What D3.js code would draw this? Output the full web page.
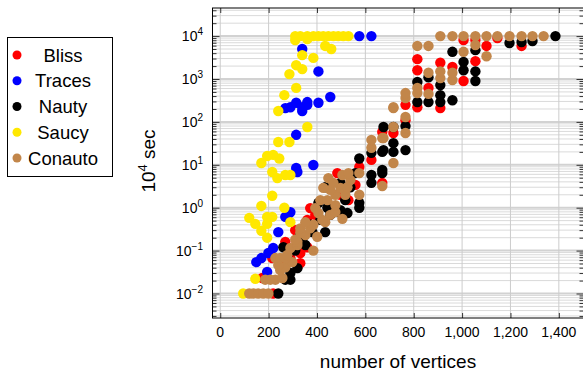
<!DOCTYPE html>
<html>
<head>
<meta charset="utf-8">
<script src="https://cdn.jsdelivr.net/npm/d3@7"></script>
<style>
  body { margin: 0; background: #fff; }
  text { font-family: "Liberation Sans", Arial, Helvetica, sans-serif; }
</style>
</head>
<body>
<script>
// series: [number of vertices, time]
const seriesNames = ["Bliss", "Traces", "Nauty", "Saucy", "Conauto"];
const seriesColors = ["#ff0000", "#0000ff", "#000000", "#ffe800", "#c2864a"];

const blissData = [
  [219, 0.01], [174, 0.023], [248, 0.054], [290, 0.067], [215, 0.067], [331, 0.051],
  [331, 0.088], [269, 0.16], [360, 0.12], [310, 0.30], [360, 0.52], [393, 0.68],
  [372, 0.98], [497, 2.0], [530, 1.5], [559, 3.4], [484, 6.4],
  [670, 3.8], [575, 8.9], [625, 13], [670, 58], [716, 55], [766, 110], [766, 250],
  [815, 220], [910, 210], [861, 620], [815, 1600], [815, 2900], [910, 2400],
  [960, 1900], [1006, 900], [1055, 2600], [1101, 5900], [1246, 5900],
  [1006, 8100], [1055, 8100], [1146, 9000]
];

const tracesData = [
  [575, 10000], [625, 10000], [339, 5000], [406, 1500], [455, 380], [406, 280],
  [360, 290], [339, 220], [314, 280], [290, 220], [269, 210], [360, 250],
  [339, 180], [314, 50], [314, 8.4], [385, 9.9], [319, 6.8], [290, 0.79],
  [286, 0.75], [269, 0.61], [240, 0.27], [219, 0.115], [199, 0.088], [170, 0.067],
  [149, 0.054], [194, 0.032]
];

const nautyData = [
  [240, 0.01], [269, 0.021], [290, 0.021], [290, 0.030], [319, 0.039], [277, 0.071],
  [310, 0.10], [261, 0.12], [352, 0.135], [339, 0.18], [331, 0.23], [381, 0.27],
  [434, 0.27], [372, 0.40], [414, 0.52], [455, 0.68], [526, 0.75], [488, 0.79],
  [497, 0.88], [443, 1.0], [406, 1.3], [517, 1.5], [575, 1.0], [575, 1.3],
  [434, 3.0], [538, 3.0], [497, 3.8], [625, 3.8], [625, 5.8], [559, 6.4], [670, 6.4],
  [670, 7.6], [575, 14], [625, 19], [670, 20], [716, 20], [716, 32], [675, 22],
  [766, 22], [675, 76], [716, 76], [766, 80], [815, 290], [861, 290], [910, 290],
  [960, 320], [910, 420], [910, 720], [815, 850], [861, 1100], [1055, 900],
  [1006, 1600], [1055, 1500], [1006, 2500], [960, 4300], [1055, 4700],
  [1196, 6900], [1246, 7300], [1291, 7700], [1386, 10000]
];

const saucyData = [
  [310, 10000], [331, 10000], [360, 10000], [385, 10000], [406, 10000], [426, 10000],
  [447, 10000], [468, 10000], [488, 10000], [509, 10000], [530, 10000],
  [310, 8100], [360, 8500], [434, 5900], [459, 5000], [339, 3600], [385, 3100],
  [314, 2100], [339, 1700], [286, 1300], [314, 620], [265, 420], [240, 180],
  [360, 76], [240, 34], [286, 34], [194, 16], [219, 17], [244, 14], [170, 11],
  [215, 6.8], [236, 4.9], [269, 5.8], [290, 5.8], [215, 1.9], [170, 1.1],
  [265, 1.0], [120, 0.58], [194, 0.61], [215, 0.61], [145, 0.42], [194, 0.42],
  [290, 0.46], [170, 0.29], [194, 0.20], [145, 0.022], [95, 0.01]
];

const conautoData = [
  [120, 0.01], [137, 0.01], [157, 0.01], [178, 0.01], [199, 0.01],
  [186, 0.021], [207, 0.021], [228, 0.021], [257, 0.023], [248, 0.035],
  [269, 0.041], [240, 0.046], [298, 0.054], [228, 0.067], [248, 0.067],
  [269, 0.067], [277, 0.079], [385, 0.10], [290, 0.115], [319, 0.135], [319, 0.16],
  [310, 0.18], [401, 0.21], [352, 0.23], [331, 0.26], [331, 0.33], [372, 0.33],
  [385, 0.40], [352, 0.46], [434, 0.46], [422, 0.52], [505, 0.55], [455, 0.68],
  [406, 0.75], [476, 0.79], [393, 0.98], [476, 1.15], [414, 1.5], [443, 1.5],
  [476, 2.0], [517, 2.0], [575, 2.0], [455, 2.6], [426, 2.9], [497, 2.9],
  [526, 3.0], [670, 3.2], [468, 3.8], [538, 4.4], [447, 4.9], [505, 5.8],
  [530, 6.4], [575, 6.4], [716, 11], [625, 25], [625, 38], [670, 42], [675, 42],
  [766, 55], [716, 76], [766, 130], [716, 210], [716, 220], [766, 360], [766, 470],
  [815, 470], [861, 450], [815, 620], [910, 1050], [960, 950], [861, 1400],
  [960, 1400], [910, 1500], [1101, 3400], [1006, 4300], [815, 5900], [861, 5900],
  [1055, 6200], [910, 10000], [960, 10000], [1006, 10000], [1055, 10000],
  [1101, 10000], [1146, 10000], [1196, 10000], [1246, 10000], [1291, 10000],
  [1337, 10000]
];

const allSeries = [blissData, tracesData, nautyData, saucyData, conautoData];
const xTicks = [0, 200, 400, 600, 800, 1000, 1200, 1400];
const yTickExps = [-2, -1, 0, 1, 2, 3, 4];

const W = 583, H = 372;
const plot = { left: 212.5, right: 583.5, top: 8, bottom: 318 };

const svg = d3.select("body").append("svg")
  .attr("width", W).attr("height", H);

const x = d3.scaleLinear().domain([-32, 1502]).range([plot.left, plot.right]);
const y = d3.scaleLog().domain([Math.pow(10, -2.571), Math.pow(10, 4.655)]).range([plot.bottom, plot.top]);

// grid
const minorVals = [];
for (let e = -3; e <= 4; e++) {
  for (let m = 2; m <= 9; m++) {
    const v = m * Math.pow(10, e);
    if (v > y.domain()[0] && v < y.domain()[1]) minorVals.push(v);
  }
}
const grid = svg.append("g");
grid.selectAll(".hminor").data(minorVals).join("line")
  .attr("x1", plot.left).attr("x2", plot.right)
  .attr("y1", d => y(d)).attr("y2", d => y(d))
  .attr("stroke", "#dadada").attr("stroke-width", 1);
grid.selectAll(".hmajor").data(yTickExps).join("line")
  .attr("x1", plot.left).attr("x2", plot.right)
  .attr("y1", d => y(Math.pow(10, d))).attr("y2", d => y(Math.pow(10, d)))
  .attr("stroke", "#d2d2d2").attr("stroke-width", 2);
grid.selectAll(".vline").data(xTicks).join("line")
  .attr("x1", d => x(d)).attr("x2", d => x(d))
  .attr("y1", plot.top).attr("y2", plot.bottom)
  .attr("stroke", "#cccccc").attr("stroke-width", 1);

// axes (ticks inside)
const tickColor = "#333";
const axes = svg.append("g");
axes.append("g").attr("transform", `translate(0,${plot.bottom})`)
  .call(d3.axisTop(x).tickValues(xTicks).tickSize(5).tickFormat(""));
axes.append("g").attr("transform", `translate(0,${plot.top})`)
  .call(d3.axisBottom(x).tickValues(xTicks).tickSize(5).tickFormat(""));
axes.append("g").attr("transform", `translate(${plot.left},0)`)
  .call(d3.axisRight(y).tickValues(yTickExps.map(e => Math.pow(10, e))).tickSize(7).tickFormat(""));
axes.append("g").attr("transform", `translate(${plot.left},0)`)
  .call(d3.axisRight(y).tickValues(minorVals).tickSize(4).tickFormat(""));
axes.append("g").attr("transform", `translate(${plot.right},0)`)
  .call(d3.axisLeft(y).tickValues(yTickExps.map(e => Math.pow(10, e))).tickSize(7).tickFormat(""));
axes.append("g").attr("transform", `translate(${plot.right},0)`)
  .call(d3.axisLeft(y).tickValues(minorVals).tickSize(4).tickFormat(""));
axes.selectAll(".domain").remove();
axes.selectAll(".tick line").attr("stroke", tickColor);

svg.append("rect")
  .attr("x", plot.left).attr("y", plot.top)
  .attr("width", plot.right - plot.left).attr("height", plot.bottom - plot.top)
  .attr("fill", "none").attr("stroke", "#000").attr("stroke-width", 1);

// tick labels
svg.append("g").selectAll("text").data(xTicks).join("text")
  .attr("x", d => x(d)).attr("y", 337)
  .attr("text-anchor", "middle").attr("font-size", 14)
  .text(d => d3.format(",")(d));

const yl = svg.append("g").selectAll("text").data(yTickExps).join("text")
  .attr("x", 203).attr("y", d => y(Math.pow(10, d)) + 5)
  .attr("text-anchor", "end").attr("font-size", 14);
yl.append("tspan").text("10");
yl.append("tspan").attr("font-size", 10).attr("dy", -6)
  .text(d => d < 0 ? "\u2212" + (-d) : String(d));

// axis titles
svg.append("text").attr("x", 398).attr("y", 368)
  .attr("text-anchor", "middle").attr("font-size", 19)
  .text("number of vertices");
const yt = svg.append("text")
  .attr("transform", "translate(155,161) rotate(-90)")
  .attr("text-anchor", "middle").attr("font-size", 19);
yt.append("tspan").text("10");
yt.append("tspan").attr("font-size", 13).attr("dy", -8).text("4");
yt.append("tspan").attr("dy", 8).text(" sec");

// points
const pts = svg.append("g");
allSeries.forEach((data, i) => {
  pts.append("g").selectAll("circle").data(data).join("circle")
    .attr("cx", d => x(d[0])).attr("cy", d => y(d[1]))
    .attr("r", 5.2).attr("fill", seriesColors[i]);
});

// legend
const legend = svg.append("g");
legend.append("rect").attr("x", 7.5).attr("y", 37.5).attr("width", 105).attr("height", 139)
  .attr("fill", "#fff").attr("stroke", "#000").attr("stroke-width", 1);
const rowY = d3.scalePoint().domain(seriesNames).range([55, 158]);
seriesNames.forEach((name, i) => {
  legend.append("circle").attr("cx", 17).attr("cy", rowY(name)).attr("r", 4.5)
    .attr("fill", seriesColors[i]);
  legend.append("text").attr("x", 63).attr("y", rowY(name) + 6.5)
    .attr("text-anchor", "middle").attr("font-size", 18.5).text(name);
});
</script>
</body>
</html>
